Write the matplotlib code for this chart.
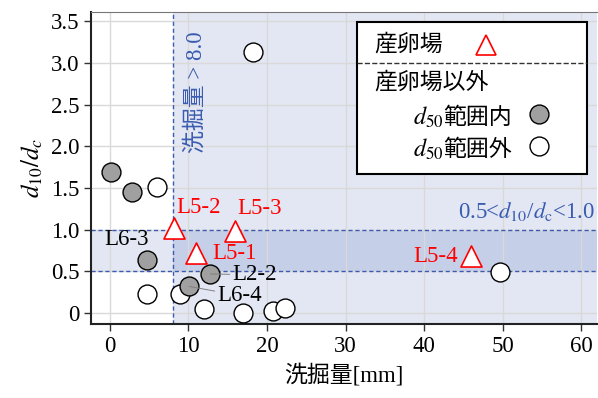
import matplotlib.pyplot as plt
import matplotlib.patches as mpatches
import numpy as np

plt.rcParams['font.family'] = ['Liberation Serif', 'Noto Sans CJK JP']
plt.rcParams['mathtext.fontset'] = 'stix'

# 産卵場 (red triangles)
spawn_x = [8.2, 15.9, 11.0, 46.0]
spawn_y = [1.02, 0.98, 0.72, 0.68]
spawn_lab = ['L5-2', 'L5-3', 'L5-1', 'L5-4']

# 産卵場以外, d50範囲内 (gray)
inside_x = [0.2, 2.8, 4.7, 10.1, 12.8]
inside_y = [1.69, 1.45, 0.64, 0.32, 0.47]

# 産卵場以外, d50範囲外 (white)
outside_x = [6.0, 18.2, 4.7, 8.9, 12.0, 17.0, 20.7, 22.3, 49.7]
outside_y = [1.51, 3.13, 0.23, 0.23, 0.05, 0.0, 0.02, 0.06, 0.49]

xticks = [0, 10, 20, 30, 40, 50, 60]
yticks = [0, 0.5, 1.0, 1.5, 2.0, 2.5, 3.0, 3.5]
ytick_labels = ['0', '0.5', '1.0', '1.5', '2.0', '2.5', '3.0', '3.5']

x_thr = 8.0
band = (0.5, 1.0)
blue = '#3a5bb0'
fs = 16.5

fig = plt.figure(figsize=(5.98, 3.98), dpi=100)
ax = fig.add_axes([91 / 598, 74 / 398, 506 / 598, 312 / 398])
ax.set_xlim(-2.4, 62.0)
ax.set_ylim(-0.13, 3.61)

# shaded regions
ax.axvspan(x_thr, 70, color='#e3e7f3', zorder=0, lw=0)
ax.axhspan(band[0], band[1], xmin=0, xmax=(x_thr + 2.4) / 64.4,
           color='#e3e7f3', zorder=0, lw=0)
ax.axhspan(band[0], band[1], xmin=(x_thr + 2.4) / 64.4, xmax=1,
           color='#c6cfe8', zorder=0, lw=0)

ax.set_xticks(xticks)
ax.set_yticks(yticks)
ax.set_yticklabels(ytick_labels)
ax.grid(True, color='#d9d9d9', lw=1.0, zorder=0.5)
ax.set_axisbelow(True)

ax.axvline(x_thr, color=blue, ls='--', lw=1.0, dashes=(3, 2), zorder=1)
for yv in band:
    ax.axhline(yv, color=blue, ls='--', lw=1.0, dashes=(3, 2), zorder=1)

ax.scatter(outside_x, outside_y, s=185, facecolor='white', edgecolor='black',
           lw=1.0, zorder=3)
ax.scatter(inside_x, inside_y, s=185, facecolor='#a0a0a0', edgecolor='black',
           lw=1.0, zorder=3)
ax.scatter(spawn_x, spawn_y, s=230, marker='^', facecolor='white',
           edgecolor='red', lw=1.2, zorder=4)

# point labels
ax.text(8.4, 1.27, 'L5-2', color='red', fontsize=fs, va='center', ha='left')
ax.text(16.2, 1.26, 'L5-3', color='red', fontsize=fs, va='center', ha='left')
ax.text(13.0, 0.71, 'L5-1', color='red', fontsize=fs, va='center', ha='left')
ax.text(44.3, 0.68, 'L5-4', color='red', fontsize=fs, va='center', ha='right')
ax.text(-0.7, 0.88, 'L6-3', color='black', fontsize=fs, va='center', ha='left')
ax.annotate('L2-2', xy=(inside_x[4], inside_y[4]), xytext=(15.6, 0.46),
            fontsize=fs, va='center', ha='left',
            arrowprops=dict(arrowstyle='-', color='#808080', lw=0.7,
                            shrinkA=0, shrinkB=0))
ax.annotate('L6-4', xy=(inside_x[3], inside_y[3]), xytext=(13.7, 0.21),
            fontsize=fs, va='center', ha='left',
            arrowprops=dict(arrowstyle='-', color='#808080', lw=0.7,
                            shrinkA=0, shrinkB=0))

ax.text(10.9, 2.65, '洗掘量 > 8.0', color=blue, fontsize=fs, rotation=90,
        va='center', ha='center')
ax.text(61.8, 1.22, r'0.5<$d_{10}$/$d_{\mathrm{c}}$<1.0', color=blue,
        fontsize=fs, va='center', ha='right')

ax.set_xlabel('洗掘量[mm]', fontsize=fs, labelpad=5)
ax.set_ylabel(r'$d_{10}/d_c$', fontsize=18, labelpad=4)
ax.tick_params(labelsize=fs, length=5, width=1.0, color='#333333')

for side in ['left', 'bottom']:
    ax.spines[side].set_linewidth(1.5)
    ax.spines[side].set_color('#222222')
ax.spines['top'].set_color('#777777')
ax.spines['top'].set_linewidth(0.8)
ax.spines['right'].set_visible(False)

# legend box
T = ax.transAxes
ax.add_patch(mpatches.Rectangle((0.526, 0.481), 0.454, 0.487, transform=T,
                                facecolor='white', edgecolor='black', lw=1.5,
                                zorder=5))
ax.plot([0.526, 0.980], [0.837, 0.837], transform=T, color='#333333',
        ls='--', lw=1.0, zorder=6)
ax.text(0.559, 0.894, '産卵場', transform=T, fontsize=fs, va='center',
        ha='left', zorder=6)
ax.plot([0.781], [0.894], transform=T, marker='^', ms=15, mfc='white',
        mec='red', mew=1.2, ls='none', zorder=6)
ax.text(0.559, 0.772, '産卵場以外', transform=T, fontsize=fs, va='center',
        ha='left', zorder=6)

renderer = fig.canvas.get_renderer()
for yy, word, fc in [(0.640, '範囲内', '#a0a0a0'), (0.537, '範囲外', 'white')]:
    t1 = ax.text(0.636, yy, r'$d_{50}$', transform=T, fontsize=fs + 1,
                 va='baseline', ha='left', zorder=6)
    bb = t1.get_window_extent(renderer)
    x_next = T.inverted().transform((bb.x1, bb.y0))[0]
    ax.text(x_next, yy, word, transform=T, fontsize=fs, va='baseline',
            ha='left', zorder=6)
    ax.plot([0.885], [yy + 0.033], transform=T, marker='o', ms=13.6, mfc=fc,
            mec='black', mew=1.0, ls='none', zorder=6)

fig.savefig('out.png', dpi=100)
